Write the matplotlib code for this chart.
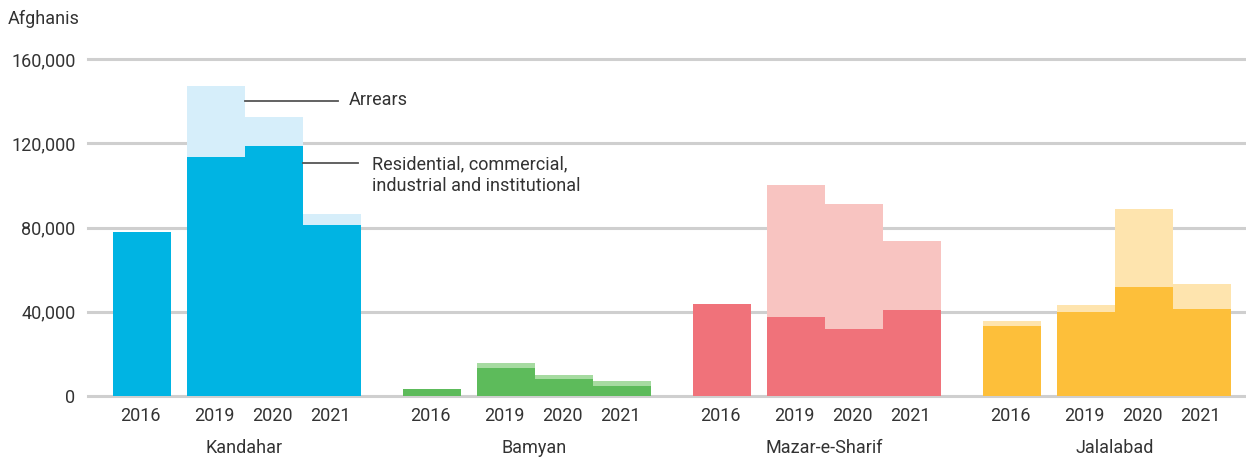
import numpy as np
import matplotlib
matplotlib.use("Agg")
import matplotlib.pyplot as plt

plt.rcParams["font.family"] = ["Roboto", "DejaVu Sans"]

# --- data (afghanis) ---
cities = ["Kandahar", "Bamyan", "Mazar-e-Sharif", "Jalalabad"]
years = ["2016", "2019", "2020", "2021"]

# residential, commercial, industrial and institutional collections
kandahar_rcii = [78000, 113500, 118800, 81200]
bamyan_rcii = [3200, 13200, 7900, 4600]
mazar_rcii = [43500, 37500, 32000, 41000]
jalalabad_rcii = [33300, 39900, 51700, 41400]

# arrears collected on top
kandahar_arrears = [0, 33700, 13500, 5100]
bamyan_arrears = [300, 2500, 2200, 2700]
mazar_arrears = [0, 62900, 59300, 32600]
jalalabad_arrears = [2500, 3100, 36900, 11600]

yticks = [0, 40000, 80000, 120000, 160000]

# --- style ---
dark_colors = ["#00b4e3", "#5dbb5b", "#f0727a", "#fdbf3a"]
light_colors = ["#d6eefa", "#a6dba1", "#f8c4c1", "#fee4ae"]
text_color = "#333333"
grid_color = "#cfcfcf"
fs = 13

rcii = [kandahar_rcii, bamyan_rcii, mazar_rcii, jalalabad_rcii]
arrears = [kandahar_arrears, bamyan_arrears, mazar_arrears, jalalabad_arrears]

group_step = 5.0
year_offsets = np.array([0.0, 1.276, 2.276, 3.276])
bar_w = 1.0

fig = plt.figure(figsize=(12.46, 4.62), dpi=100)
ax = fig.add_axes([88 / 1246, 66 / 462, 1 - 88 / 1246, 337 / 462])

for yt in yticks:
    ax.axhline(yt, color=grid_color, lw=2.2, zorder=0, clip_on=False)

for g, city in enumerate(cities):
    xs = g * group_step + year_offsets
    ax.bar(xs, rcii[g], width=bar_w, color=dark_colors[g], lw=0, zorder=2)
    ax.bar(xs, arrears[g], width=bar_w, bottom=rcii[g],
           color=light_colors[g], lw=0, zorder=2)
    for x, yr in zip(xs, years):
        ax.text(x - 0.03, -9500, yr, ha="center", va="center",
                fontsize=fs, color=text_color)
    ax.text(g * group_step + 1.76, -24700, city, ha="center", va="center",
            fontsize=fs, color=text_color)

# callouts pointing at the stacked segments
ax.plot([1.776, 3.38], [140000, 140000], color="#555555", lw=1.3, zorder=3)
ax.text(3.57, 140500, "Arrears", ha="left", va="center",
        fontsize=fs, color=text_color)
ax.plot([2.776, 3.72], [110600, 110600], color="#555555", lw=1.3, zorder=3)
ax.text(3.97, 104900, "Residential, commercial,\nindustrial and institutional",
        ha="left", va="center", fontsize=fs, color=text_color,
        linespacing=1.3)

ax.set_xlim(-0.93, 19.03)
ax.set_ylim(0, 160000)
ax.set_yticks(yticks)
ax.set_yticklabels([f"{v:,}" for v in yticks])
ax.tick_params(axis="y", length=0, pad=9, labelsize=fs, labelcolor=text_color)
ax.set_xticks([])
for side in ax.spines.values():
    side.set_visible(False)

fig.text(8 / 1246, 1 - 19 / 462, "Afghanis", ha="left", va="center",
         fontsize=fs, color=text_color)

fig.savefig("out.png", dpi=100)
